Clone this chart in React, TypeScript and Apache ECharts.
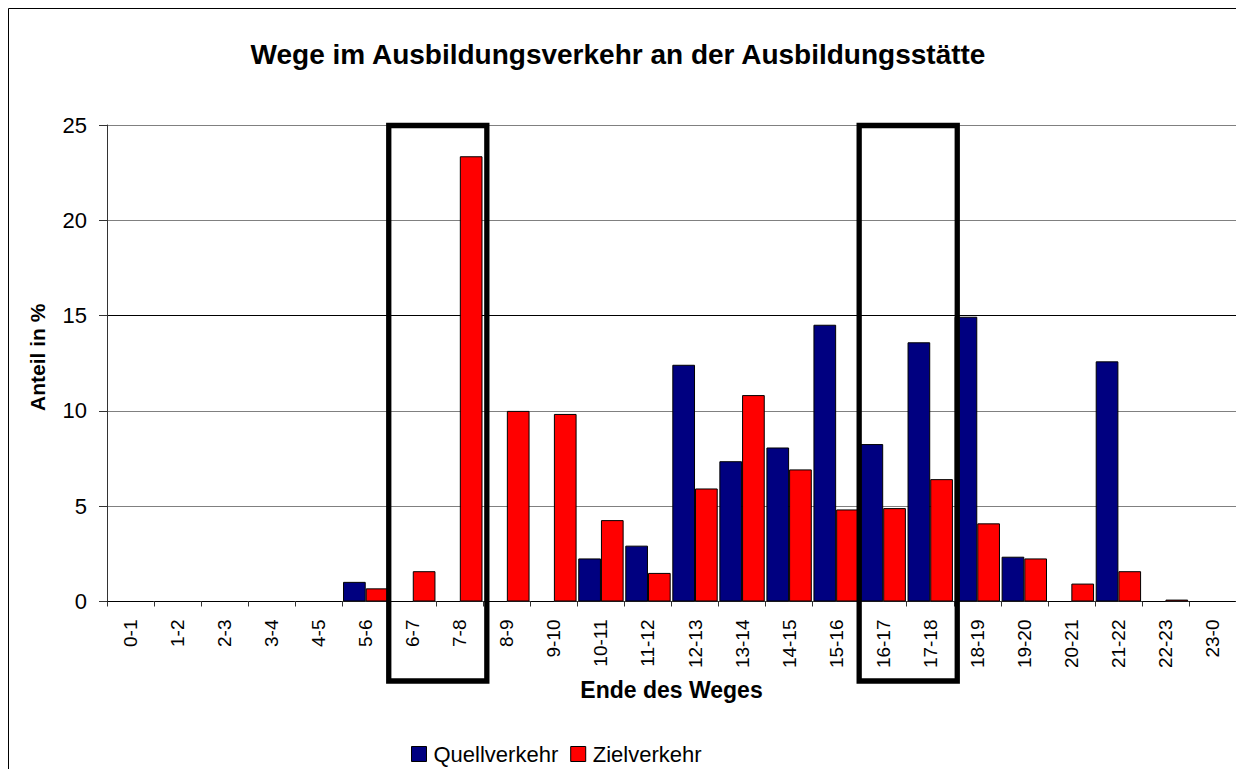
import React, { useEffect, useRef } from "react";
import * as echarts from "echarts";

const categories = [
  "0-1", "1-2", "2-3", "3-4", "4-5", "5-6", "6-7", "7-8", "8-9", "9-10", "10-11", "11-12",
  "12-13", "13-14", "14-15", "15-16", "16-17", "17-18", "18-19", "19-20", "20-21", "21-22", "22-23", "23-0",
];
const quellverkehr = [0, 0, 0, 0, 0, 1.03, 0, 0, 0, 0, 2.26, 2.93, 12.42, 7.36, 8.08, 14.52, 8.26, 13.6, 14.94, 2.35, 0, 12.6, 0, 0];
const zielverkehr = [0, 0, 0, 0, 0, 0.69, 1.59, 23.36, 10.0, 9.84, 4.27, 1.5, 5.93, 10.83, 6.93, 4.83, 4.9, 6.42, 4.1, 2.26, 0.94, 1.59, 0.1, 0];
const highlightRanges = [["6-7", "7-8"], ["16-17", "17-18"]];

const FONT = "'Liberation Sans', Arial, sans-serif";

export default function App() {
  const ref = useRef<HTMLDivElement>(null);
  useEffect(() => {
    if (!ref.current) return;
    const chart = echarts.init(ref.current, undefined, { renderer: "svg" });
    chart.setOption({
      animation: false,
      backgroundColor: "#ffffff",
      title: {
        text: "Wege im Ausbildungsverkehr an der Ausbildungsstätte",
        left: "center",
        top: 35,
        textStyle: { fontFamily: FONT, fontSize: 28, fontWeight: "bold", color: "#000" },
      },
      legend: {
        left: 406,
        top: 738,
        itemWidth: 15,
        itemHeight: 15,
        itemGap: 12,
        icon: "rect",
        itemStyle: { borderColor: "#000", borderWidth: 1 },
        textStyle: { fontFamily: FONT, fontSize: 22, color: "#000", padding: [0, 0, 0, 2] },
        data: ["Quellverkehr", "Zielverkehr"],
      },
      grid: { left: 107, top: 125, width: 1132, height: 476.5, containLabel: false },
      xAxis: {
        type: "category",
        data: categories,
        name: "Ende des Weges",
        nameLocation: "middle",
        nameGap: 77,
        nameTextStyle: { fontFamily: FONT, fontSize: 23, fontWeight: "bold", color: "#000" },
        axisLine: { lineStyle: { color: "#333", width: 1 } },
        axisTick: { show: true, length: 5, alignWithLabel: false, lineStyle: { color: "#333" } },
        axisLabel: { rotate: 90, margin: 18, fontFamily: FONT, fontSize: 19, color: "#000", interval: 0 },
        splitLine: { show: false },
      },
      yAxis: {
        type: "value",
        min: 0,
        max: 25,
        interval: 5,
        name: "Anteil in %",
        nameLocation: "middle",
        nameGap: 59,
        nameRotate: 90,
        nameTextStyle: { fontFamily: FONT, fontSize: 21, fontWeight: "bold", color: "#000", padding: [0, 0, 0, 12] },
        axisLine: { show: true, lineStyle: { color: "#333", width: 1 } },
        axisTick: { show: true, length: 8, lineStyle: { color: "#333" } },
        axisLabel: { margin: 20, fontFamily: FONT, fontSize: 22, color: "#000" },
        splitLine: {
          show: true,
          lineStyle: { color: ["#808080", "#808080", "#808080", "#000000", "#808080", "#808080"], width: 1 },
        },
      },
      series: [
        {
          name: "Quellverkehr",
          type: "bar",
          data: quellverkehr,
          barGap: "0%",
          barCategoryGap: "3.5%",
          itemStyle: { color: "#000080", borderColor: "#000", borderWidth: 1 },
        },
        {
          name: "Zielverkehr",
          type: "bar",
          data: zielverkehr,
          barGap: "0%",
          barCategoryGap: "3.5%",
          itemStyle: { color: "#FF0000", borderColor: "#000", borderWidth: 1 },
        },
      ],
    });

    const top = chart.convertToPixel({ yAxisIndex: 0 }, 25) as number;
    const axisY = chart.convertToPixel({ yAxisIndex: 0 }, 0) as number;
    const boxes = highlightRanges.map(([a, b]) => {
      const ca = chart.convertToPixel({ xAxisIndex: 0 }, a) as number;
      const cb = chart.convertToPixel({ xAxisIndex: 0 }, b) as number;
      const w = cb - ca;
      const x0 = ca - w / 2 - 0.5;
      const x1 = cb + w / 2 + 3.5;
      return {
        type: "rect",
        shape: { x: x0, y: top + 0.5, width: x1 - x0, height: axisY + 79 - top },
        style: { fill: "none", stroke: "#000", lineWidth: 5.3 },
        z: 100,
      };
    });
    chart.setOption({
      graphic: [
        {
          type: "rect",
          shape: { x: 8.5, y: 8.5, width: 1300, height: 800 },
          style: { fill: "none", stroke: "#000", lineWidth: 1 },
          silent: true,
        },
        ...boxes,
      ],
    });

    return () => chart.dispose();
  }, []);
  return (
    <div
      ref={ref}
      style={{ position: "absolute", left: 0, top: 0, width: 1236, height: 769, background: "#fff" }}
    />
  );
}
